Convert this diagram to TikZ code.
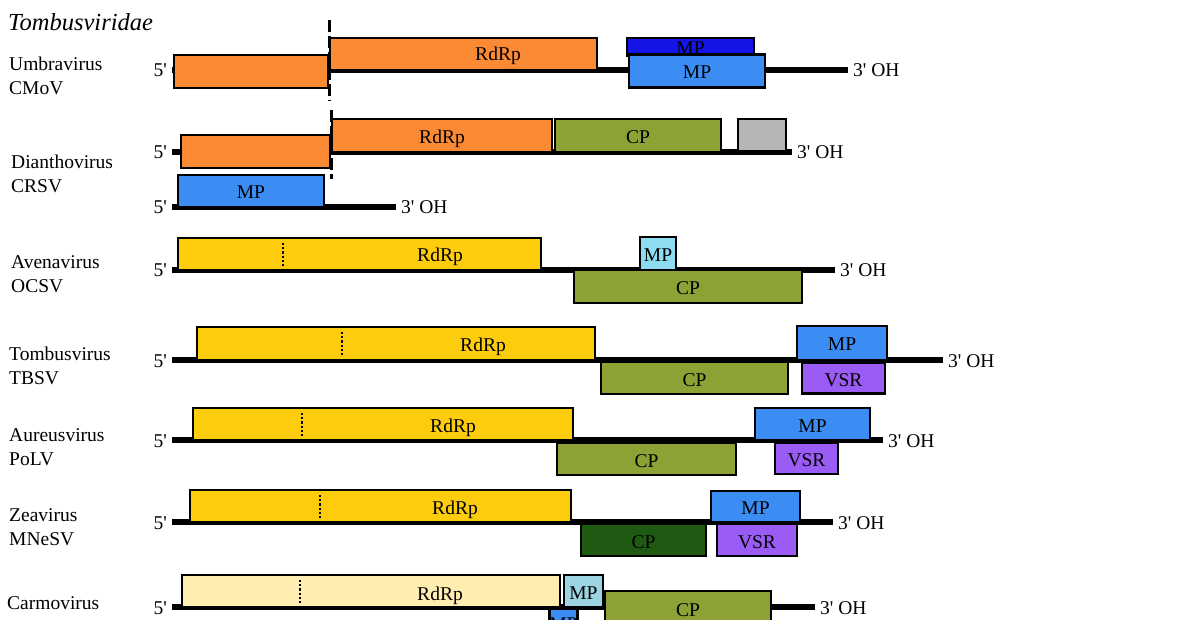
\documentclass[tikz,border=0pt]{standalone}
\usepackage{fontspec}
\setmainfont{Liberation Serif}
\usepackage{xcolor}
\usetikzlibrary{positioning}
\definecolor{orfora}{HTML}{FB8A34}
\definecolor{orfyel}{HTML}{FDCC0D}
\definecolor{orfpale}{HTML}{FFEDB2}
\definecolor{orfblue}{HTML}{3B8CF3}
\definecolor{orfnavy}{HTML}{1414E6}
\definecolor{orfcyan}{HTML}{8EDCF2}
\definecolor{orfcyan2}{HTML}{9DD4E2}
\definecolor{orfolive}{HTML}{8DA234}
\definecolor{orfdkgrn}{HTML}{1F5A12}
\definecolor{orfpurp}{HTML}{9B5BF5}
\definecolor{orfgray}{HTML}{B6B6B6}

\begin{document}
\begin{tikzpicture}[x=1pt,y=-1pt,
  orf/.style={draw,line width=2.8pt,inner sep=0pt,text height=16pt,text depth=0pt,
              font=\fontsize{19.5}{21}\selectfont},
  lab/.style={inner sep=0pt,text height=16pt,text depth=0pt,font=\fontsize{19.5}{21}\selectfont},
  end/.style={inner xsep=5pt,inner ysep=0pt,text height=14pt,text depth=0pt,
              font=\fontsize{19.5}{21}\selectfont},
  virus/.style={align=left,inner sep=0pt,font=\fontsize{19.5}{24}\selectfont},
  rna/.style={line width=5.5pt},
  junc/.style={line width=3pt,dash pattern=on 12pt off 4pt},
  rt/.style={line width=2.2pt,dash pattern=on 2.2pt off 2pt}
]
  \useasboundingbox (0,0) rectangle (1200,620);
  \node[anchor=base west,inner sep=0pt,font=\fontsize{24.5}{28}\selectfont\itshape]
    (fam) at (8,31) {Tombusviridae};

  % Umbravirus
  \node[virus,anchor=west] (umb) at (9,75.5) {Umbravirus\\CMoV};
  \node[end,anchor=east] (u5) at (172,70) {5\textquotesingle};
  \node[end,anchor=west] (u3) at (848,70) {3\textquotesingle{} OH};
  \draw[rna] (u5) -- (u3);
  \node[orf,fill=orfora,minimum width=154pt,minimum height=33pt] (u1) at (251,71.5) {};
  \node[orf,fill=orfora,minimum width=267pt,minimum height=32pt] (u2) at (463.5,54) {};
  \node[lab] (u2t) at (498,53) {RdRp};
  \node[orf,fill=orfnavy,minimum width=127pt,minimum height=18pt] (ump1) at (690.5,47) {MP};
  \node[orf,fill=orfblue,minimum width=136pt,minimum height=33pt] (ump2) at (697,71) {MP};
  \draw[junc] (329,20) -- (329,101);

  % Dianthovirus
  \node[virus,anchor=west] (dia) at (11,174) {Dianthovirus\\CRSV};
  \node[end,anchor=east] (d5) at (172,152) {5\textquotesingle};
  \node[end,anchor=west] (d3) at (792,152) {3\textquotesingle{} OH};
  \draw[rna] (d5) -- (d3);
  \node[orf,fill=orfora,minimum width=149pt,minimum height=33pt] (d1) at (255.5,151.5) {};
  \node[orf,fill=orfora,minimum width=220pt,minimum height=33pt] (d2) at (442,135.5) {RdRp};
  \node[orf,fill=orfolive,minimum width=166pt,minimum height=33pt] (dcp) at (638,135.5) {CP};
  \node[orf,fill=orfgray,minimum width=48pt,minimum height=32pt] (dx) at (762,135) {};
  \draw[junc] (331,110) -- (331,179);
  \node[end,anchor=east] (e5) at (172,207) {5\textquotesingle};
  \node[end,anchor=west] (e3) at (396,207) {3\textquotesingle{} OH};
  \draw[rna] (e5) -- (e3);
  \node[orf,fill=orfblue,minimum width=146pt,minimum height=32pt] (dmp) at (251,191) {MP};

  % Avenavirus
  \node[virus,anchor=west] (ave) at (11,274) {Avenavirus\\OCSV};
  \node[end,anchor=east] (a5) at (172,270) {5\textquotesingle};
  \node[end,anchor=west] (a3) at (835,270) {3\textquotesingle{} OH};
  \draw[rna] (a5) -- (a3);
  \node[orf,fill=orfyel,minimum width=363pt,minimum height=32pt] (a1) at (359.5,254) {};
  \node[lab] (a1t) at (440,254) {RdRp};
  \draw[rt] (283,243) -- (283,266);
  \node[orf,fill=orfcyan,minimum width=36pt,minimum height=33pt] (amp) at (658,253.5) {MP};
  \node[orf,fill=orfolive,minimum width=228pt,minimum height=33pt] (acp) at (688,286.5) {CP};

  % Tombusvirus
  \node[virus,anchor=west] (tom) at (9,366) {Tombusvirus\\TBSV};
  \node[end,anchor=east] (t5) at (172,360) {5\textquotesingle};
  \node[end,anchor=west] (t3) at (943,360) {3\textquotesingle{} OH};
  \draw[rna] (t5) -- (t3);
  \node[orf,fill=orfyel,minimum width=398pt,minimum height=33pt] (t1) at (396,343.5) {};
  \node[lab] (t1t) at (483,344) {RdRp};
  \draw[rt] (342,332) -- (342,356);
  \node[orf,fill=orfolive,minimum width=187pt,minimum height=32pt] (tcp) at (694.5,378) {CP};
  \node[orf,fill=orfblue,minimum width=90pt,minimum height=34pt] (tmp) at (842,343) {MP};
  \node[orf,fill=orfpurp,minimum width=83pt,minimum height=31pt] (tvsr) at (843.5,378) {VSR};

  % Aureusvirus
  \node[virus,anchor=west] (aur) at (9,447.5) {Aureusvirus\\PoLV};
  \node[end,anchor=east] (o5) at (172,440) {5\textquotesingle};
  \node[end,anchor=west] (o3) at (883,440) {3\textquotesingle{} OH};
  \draw[rna] (o5) -- (o3);
  \node[orf,fill=orfyel,minimum width=380pt,minimum height=32pt] (o1) at (383,424) {};
  \node[lab] (o1t) at (453,424) {RdRp};
  \draw[rt] (302,413) -- (302,436);
  \node[orf,fill=orfolive,minimum width=179pt,minimum height=32pt] (ocp) at (646.5,459) {CP};
  \node[orf,fill=orfblue,minimum width=115pt,minimum height=32pt] (omp) at (812.5,424) {MP};
  \node[orf,fill=orfpurp,minimum width=63pt,minimum height=31pt] (ovsr) at (806.5,458.5) {VSR};

  % Zeavirus
  \node[virus,anchor=west] (zea) at (9,527.5) {Zeavirus\\MNeSV};
  \node[end,anchor=east] (z5) at (172,522) {5\textquotesingle};
  \node[end,anchor=west] (z3) at (833,522) {3\textquotesingle{} OH};
  \draw[rna] (z5) -- (z3);
  \node[orf,fill=orfyel,minimum width=381pt,minimum height=32pt] (z1) at (380.5,506) {};
  \node[lab] (z1t) at (455,506) {RdRp};
  \draw[rt] (320,495) -- (320,518);
  \node[orf,fill=orfdkgrn,minimum width=125pt,minimum height=32pt] (zcp) at (643.5,540) {CP};
  \node[orf,fill=orfblue,minimum width=89pt,minimum height=31pt] (zmp) at (755.5,506.5) {MP};
  \node[orf,fill=orfpurp,minimum width=80pt,minimum height=32pt] (zvsr) at (757,540) {VSR};

  % Carmovirus
  \node[virus,anchor=west] (car) at (7,615) {Carmovirus\\CarMV};
  \node[end,anchor=east] (c5) at (172,607) {5\textquotesingle};
  \node[end,anchor=west] (c3) at (815,607) {3\textquotesingle{} OH};
  \draw[rna] (c5) -- (c3);
  \node[orf,fill=orfblue,text height=11pt,minimum width=27pt,minimum height=32pt] (cmp2) at (563.5,625) {MP};
  \node[orf,fill=orfpale,minimum width=378pt,minimum height=32pt] (c1) at (371,591) {};
  \node[lab] (c1t) at (440,592) {RdRp};
  \draw[rt] (300,580) -- (300,603);
  \node[orf,fill=orfcyan2,minimum width=39pt,minimum height=32pt] (cmp) at (583.5,591) {MP};
  \node[orf,fill=orfolive,minimum width=166pt,minimum height=34pt] (ccp) at (688,608) {CP};
\end{tikzpicture}
\end{document}
